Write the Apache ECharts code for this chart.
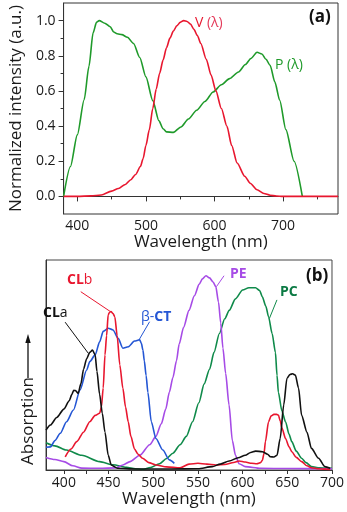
<!DOCTYPE html>
<html>
<head>
<meta charset="utf-8">
<script src="https://cdn.jsdelivr.net/npm/echarts@6/dist/echarts.min.js"></script>
<style>
html,body{margin:0;padding:0;background:#fff;}
#c{width:347px;height:512px;}
</style>
</head>
<body>
<div id="c"></div>
<script>
// ---------- Panel (a) ----------
const P_wl  = [380,390,400,410,417,423,428,432,440,448,453,458,465,473,482,491,500,510,519,525,530,540,551,562,574,586,598,610,622,635,645,653,662,669,675,681,688,695,704,716,728];
const P_val = [0,0.17,0.35,0.55,0.74,0.93,0.99,1.0,0.985,0.965,0.935,0.925,0.92,0.905,0.87,0.79,0.68,0.545,0.43,0.385,0.367,0.364,0.395,0.44,0.49,0.54,0.594,0.635,0.67,0.708,0.75,0.784,0.82,0.81,0.78,0.746,0.65,0.547,0.38,0.2,0];
const V_wl  = [380,400,420,435,450,460,470,478,485,492,496,500,505,510,515,520,525,530,535,540,545,550,555,560,565,570,575,580,588,595,602,610,618,625,633,644,652,662,672,681,690,700,780];
const V_val = [0,0,0.003,0.008,0.03,0.045,0.068,0.095,0.125,0.17,0.216,0.29,0.38,0.5,0.61,0.7,0.775,0.845,0.9,0.94,0.97,0.99,1.0,0.995,0.98,0.95,0.915,0.87,0.78,0.69,0.6,0.5,0.4,0.29,0.19,0.115,0.075,0.038,0.017,0.007,0.002,0,0];
const a_xLabels = [400,500,600,700];
const a_xMinor  = [450,550,650,750];
const a_yLabels = [0,0.2,0.4,0.6,0.8,1.0];
const a_yMinor  = [0.1,0.3,0.5,0.7,0.9];

// ---------- Panel (b) ----------
const CLa_wl  = [380,385,392,400,406,409,411,413,416,419,422,425.5,429,432,435,437,440,443,446,449.6,453,460,480,520,550,566,575,585,595,603,609,614.5,622,628,631,635,638.5,642,646,649.6,653,656,659,662.6,666,672,677,685,692,698];
const CLa_val = [0.19,0.214,0.25,0.29,0.33,0.36,0.38,0.378,0.365,0.41,0.48,0.53,0.56,0.571,0.548,0.47,0.36,0.27,0.18,0.07,0.024,0.008,0.005,0.005,0.006,0.016,0.028,0.043,0.058,0.07,0.083,0.09,0.087,0.075,0.063,0.062,0.07,0.15,0.31,0.437,0.455,0.458,0.452,0.39,0.26,0.18,0.103,0.056,0.016,0.008];
const CLb_wl  = [401.5,408,414.4,422,429,435,440,442,444,446,447.8,449.6,451,452.6,455,457,459.6,462.6,466,469,472,475,479,483,488,495,503,515,530,540,550,560,570,580,590,596,603,610,616,620,622,624,625.5,629,632,635,638,640,642,644,648,652,655,660,666,672,677,685,692,698];
const CLb_val = [0.063,0.1,0.135,0.18,0.23,0.26,0.27,0.3,0.39,0.548,0.64,0.74,0.75,0.755,0.745,0.73,0.64,0.5,0.39,0.3,0.23,0.16,0.1,0.075,0.056,0.035,0.024,0.015,0.01,0.028,0.032,0.028,0.024,0.026,0.036,0.043,0.038,0.032,0.03,0.035,0.045,0.08,0.135,0.23,0.258,0.265,0.265,0.262,0.235,0.2,0.15,0.11,0.087,0.06,0.04,0.02,0.011,0.006,0.004,0.003];
const BCT_wl  = [380,385,390,396,403,410.7,418,425.5,429,435,440,444,449.6,455,460.7,466,472,479,484.8,486.7,488.5,490,492,494,497.8,503,510.7,518,523.6];
const BCT_val = [0.108,0.11,0.14,0.175,0.23,0.286,0.38,0.476,0.516,0.548,0.61,0.66,0.675,0.667,0.627,0.58,0.587,0.614,0.62,0.603,0.57,0.52,0.45,0.37,0.23,0.15,0.095,0.048,0.032];
const PE_wl   = [380,390,400,410,420,440,458,466,474,485,496,503,509,514,518,522,526,529,534,540,546,551.5,555,559,563,567,570,573,575.5,578,581,584.8,588.5,592,596,603,620,650,700];
const PE_val  = [0.06,0.05,0.04,0.02,0.009,0.008,0.01,0.024,0.04,0.07,0.12,0.16,0.22,0.29,0.37,0.44,0.52,0.6,0.68,0.76,0.83,0.885,0.91,0.925,0.915,0.895,0.873,0.8,0.7,0.58,0.46,0.31,0.14,0.07,0.03,0.016,0.008,0.007,0.006];
const PC_wl   = [380,390,403,420,440,455,470,480,488,497,507,515,522,530,537,544,551,557,563,568,574,580,585,592,600,607,614.5,619,622,626,629,633,636.7,638.5,640,644,648,652,655,660,666,671,677,686,696,700];
const PC_val  = [0.13,0.115,0.095,0.07,0.04,0.025,0.013,0.006,0.003,0.012,0.03,0.055,0.08,0.12,0.16,0.23,0.32,0.41,0.48,0.56,0.65,0.72,0.76,0.815,0.857,0.868,0.868,0.855,0.825,0.78,0.73,0.65,0.56,0.45,0.37,0.28,0.23,0.17,0.135,0.09,0.056,0.035,0.016,0.01,0.008,0.008];
const b_xLabels = [400,450,500,550,600,650,700];
const b_xTicks  = [400,425,450,475,500,525,550,575,600,625,650,675,700];

// leader lines (data coordinates of panel b)
const leadCLb = [[418.9,0.849],[452.2,0.754]];
const leadCLa = [[401.4,0.704],[427.3,0.556]];
const leadBCT = [[495.9,0.706],[484.0,0.619]];
const leadPE  = [[579.2,0.925],[570.7,0.873]];
const leadPC  = [[638.4,0.810],[630.0,0.722]];

const FONT = '"Open Sans", "Noto Sans", sans-serif';
const TXT = '#1a1a1a';
const pairs = (w, v) => w.map((x, i) => [x, v[i]]);

const chart = echarts.init(document.getElementById('c'), null, {renderer: 'canvas'});

function lineSeries(name, wl, val, color, xi, yi, lead, z) {
  const s = {
    name, type: 'line', xAxisIndex: xi, yAxisIndex: yi,
    data: pairs(wl, val), showSymbol: false, symbol: 'none',
    smooth: 0.25, smoothMonotone: 'x',
    lineStyle: {color, width: 1.6}, z: z || 2, animation: false
  };
  if (lead) {
    s.markLine = {
      silent: true, symbol: 'none', animation: false,
      label: {show: false},
      lineStyle: {color, width: 1, type: 'solid'},
      data: [[{coord: lead[0]}, {coord: lead[1]}]]
    };
  }
  return s;
}

const axisLineStyle = {show: true, lineStyle: {color: '#333', width: 1}};

const option = {
  backgroundColor: '#fff',
  animation: false,
  textStyle: {fontFamily: FONT},
  grid: [
    {left: 51, top: 3, right: 9, bottom: 298, show: true, borderColor: '#333', borderWidth: 1},
    {left: 46, top: 260, right: 14, bottom: 42, show: true, borderColor: '#444', borderWidth: 1}
  ],
  xAxis: [
    {type: 'value', gridIndex: 0, min: 380, max: 780, position: 'bottom',
     axisLine: axisLineStyle,
     axisTick: {show: true, length: 5, customValues: a_xLabels, lineStyle: {color: '#333'}},
     axisLabel: {customValues: a_xLabels, fontSize: 14, color: TXT, margin: 5, fontFamily: FONT},
     splitLine: {show: false},
     name: 'Wavelength (nm)', nameLocation: 'middle', nameGap: 15,
     nameTextStyle: {fontSize: 17, color: TXT, fontFamily: FONT}},
    {type: 'value', gridIndex: 0, min: 380, max: 780, position: 'bottom', offset: 0,
     axisLine: {show: false},
     axisTick: {show: true, length: 3, customValues: a_xMinor, lineStyle: {color: '#333'}},
     axisLabel: {show: false}, splitLine: {show: false}},
    {type: 'value', gridIndex: 1, min: 380, max: 700, position: 'bottom',
     axisLine: axisLineStyle,
     axisTick: {show: true, length: 4, customValues: b_xTicks, lineStyle: {color: '#333'}},
     axisLabel: {customValues: b_xLabels, fontSize: 14, color: TXT, margin: 6, fontFamily: FONT},
     splitLine: {show: false},
     name: 'Wavelength (nm)', nameLocation: 'middle', nameGap: 19,
     nameTextStyle: {fontSize: 17, color: TXT, fontFamily: FONT}}
  ],
  yAxis: [
    {type: 'value', gridIndex: 0, min: -0.1, max: 1.1, position: 'left',
     axisLine: axisLineStyle,
     axisTick: {show: true, length: 5, customValues: a_yLabels, lineStyle: {color: '#333'}},
     axisLabel: {customValues: a_yLabels, fontSize: 14, color: TXT, margin: 8, fontFamily: FONT,
                 formatter: v => v.toFixed(1)},
     splitLine: {show: false},
     name: 'Normalized intensity (a.u.)', nameLocation: 'middle', nameGap: 33, nameRotate: 90,
     nameTextStyle: {fontSize: 17, color: TXT, fontFamily: FONT}},
    {type: 'value', gridIndex: 0, min: -0.1, max: 1.1, position: 'left', offset: 0,
     axisLine: {show: false},
     axisTick: {show: true, length: 3, customValues: a_yMinor, lineStyle: {color: '#333'}},
     axisLabel: {show: false}, splitLine: {show: false}},
    {type: 'value', gridIndex: 1, min: 0, max: 1, position: 'left',
     axisLine: axisLineStyle, axisTick: {show: false}, axisLabel: {show: false}, splitLine: {show: false}}
  ],
  series: [
    lineSeries('P', P_wl, P_val, '#1f9a2a', 0, 0, null, 2),
    lineSeries('V', V_wl, V_val, '#e8172f', 0, 0, null, 3),
    lineSeries('PC', PC_wl, PC_val, '#0f8a4a', 2, 2, leadPC, 2),
    lineSeries('PE', PE_wl, PE_val, '#a64be6', 2, 2, leadPE, 2),
    lineSeries('b-CT', BCT_wl, BCT_val, '#2456d4', 2, 2, leadBCT, 3),
    lineSeries('CLb', CLb_wl, CLb_val, '#e8172f', 2, 2, leadCLb, 4),
    lineSeries('CLa', CLa_wl, CLa_val, '#111111', 2, 2, leadCLa, 5)
  ],
  graphic: [
    {type: 'text', x: 195, y: 23, z: 10, style: {
      text: '{r|V} {p|(λ)}', verticalAlign: 'middle', font: '14px ' + FONT,
      rich: {r: {fill: '#e8172f', fontSize: 14, fontFamily: FONT}, p: {fill: '#e43a5a', fontSize: 14, fontFamily: FONT}}}},
    {type: 'text', x: 275, y: 65, z: 10, style: {
      text: 'P (λ)', fill: '#1f9a2a', verticalAlign: 'middle', font: '14px ' + FONT}},
    {type: 'text', x: 309, y: 17, z: 10, style: {
      text: '(a)', fill: '#111', verticalAlign: 'middle', font: 'bold 17px ' + FONT}},
    {type: 'text', x: 306, y: 276, z: 10, style: {
      text: '(b)', fill: '#111', verticalAlign: 'middle', font: 'bold 17px ' + FONT}},
    {type: 'text', x: 67, y: 280, z: 10, style: {
      text: '{b|CL}{n|b}', verticalAlign: 'middle',
      rich: {b: {fill: '#e8172f', fontWeight: 'bold', fontSize: 14, fontFamily: FONT},
             n: {fill: '#e8172f', fontSize: 14, fontFamily: FONT}}}},
    {type: 'text', x: 43, y: 313, z: 10, style: {
      text: '{b|CL}{n|a}', verticalAlign: 'middle',
      rich: {b: {fill: '#111', fontWeight: 'bold', fontSize: 14, fontFamily: FONT},
             n: {fill: '#111', fontSize: 14, fontFamily: FONT}}}},
    {type: 'text', x: 141, y: 317, z: 10, style: {
      text: '{n|β-}{b|CT}', verticalAlign: 'middle',
      rich: {b: {fill: '#2456d4', fontWeight: 'bold', fontSize: 14, fontFamily: FONT},
             n: {fill: '#2456d4', fontSize: 14, fontFamily: FONT}}}},
    {type: 'text', x: 230, y: 274, z: 10, style: {
      text: 'PE', fill: '#a64be6', verticalAlign: 'middle', font: 'bold 14px ' + FONT}},
    {type: 'text', x: 280, y: 292, z: 10, style: {
      text: 'PC', fill: '#0c7a44', verticalAlign: 'middle', font: 'bold 14px ' + FONT}},
    {type: 'text', x: 28, y: 421, rotation: Math.PI / 2, z: 10, style: {
      text: 'Absorption', fill: TXT, align: 'center', verticalAlign: 'middle', font: '17px ' + FONT}},
    {type: 'line', z: 10, shape: {x1: 28, y1: 378, x2: 28, y2: 341},
     style: {stroke: '#111', lineWidth: 1.3}},
    {type: 'polygon', z: 10, shape: {points: [[28, 334], [25.3, 343], [30.7, 343]]},
     style: {fill: '#111'}}
  ]
};
chart.setOption(option);
</script>
</body>
</html>
